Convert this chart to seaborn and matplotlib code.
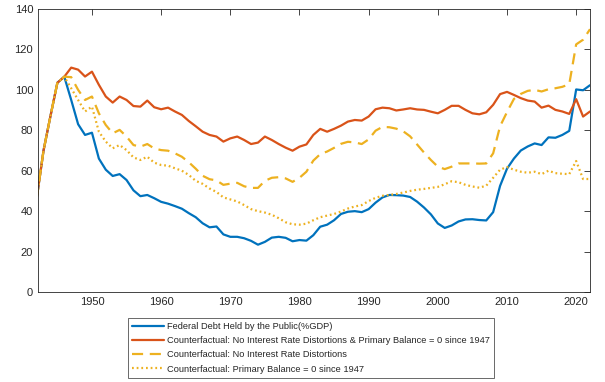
import pandas as pd
import seaborn as sns
import matplotlib.pyplot as plt

# Years shown on the chart
years = list(range(1942, 2023))

debt = [46, 70, 87, 103.5, 106.5, 95, 83, 77.7, 78.8, 66,
        60.5, 57.4, 58.3, 55.4, 50.3, 47.4, 48, 46.4, 44.6, 43.7,
        42.5, 41.2, 39, 37, 34, 32, 32.4, 28.5, 27.3, 27.3,
        26.6, 25.3, 23.4, 24.8, 26.9, 27.3, 26.8, 25.1, 25.7, 25.4,
        28.1, 32.3, 33.3, 35.5, 38.6, 39.7, 40, 39.5, 41, 44.2,
        46.8, 48, 47.9, 47.7, 47, 44.7, 41.8, 38.4, 33.9, 31.7,
        32.9, 34.9, 35.9, 36, 35.6, 35.4, 39.5, 52.5, 61, 66,
        70, 72, 73.5, 72.7, 76.5, 76.3, 77.7, 79.7, 100.2, 99.8,
        102.3]

cf_both = [46, 70, 87, 103.5, 106.5, 111, 110, 106.6, 109, 102.5,
           96.7, 93.7, 96.7, 95, 92, 91.7, 94.7, 91.4, 90.4, 91.2,
           89.3, 87.6, 84.6, 82, 79.3, 77.7, 76.9, 74.4, 76, 76.9,
           75.2, 73.2, 73.9, 76.9, 75.2, 73.2, 71.4, 69.9, 71.9, 73,
           77.7, 80.7, 79.3, 80.7, 82.3, 84.3, 85.1, 84.8, 86.8, 90.4,
           91.2, 90.9, 89.8, 90.3, 90.9, 90.3, 90.1, 89.2, 88.4, 90.1,
           92.1, 92.1, 90.1, 88.4, 87.9, 88.9, 92.6, 97.9, 99, 97.5,
           95.9, 94.7, 94.2, 91.2, 92.2, 90.1, 89.3, 88.1, 95.4, 86.8,
           89.3]

cf_rates = [46, 70, 87, 103.5, 106.5, 106.3, 100, 95, 96.7, 88.4,
            82.6, 78.5, 80.2, 76.9, 72.7, 71.9, 73.2, 71, 70.2, 69.9,
            68.6, 66.9, 64.2, 61, 57.5, 55.8, 55.2, 53, 53.6, 54,
            52.3, 51.5, 51.5, 55, 56.5, 56.8, 56.2, 54.5, 56.5, 59.5,
            65, 68.2, 69.5, 71.3, 73.3, 74.3, 74, 73.2, 75.5, 79.8,
            81.7, 81.5, 80.8, 79.5, 77, 73, 69, 65.3, 62, 60.8,
            62, 63.6, 63.6, 63.6, 63.5, 63.6, 68.6, 82, 89, 95.5,
            98, 99.5, 100, 99.2, 100.3, 100.8, 101.5, 102.8, 122.5, 124.8,
            130]

cf_primary = [46, 70, 87, 103.5, 106.5, 100.8, 95, 89.3, 91.7, 79.3,
              74.4, 71.1, 72.7, 70.2, 66.6, 65.3, 66.9, 64, 62.8, 62.5,
              61.2, 60, 57.9, 55, 53.5, 51.2, 49.5, 46.8, 45.8, 44.8,
              43, 41, 40, 39.3, 38.2, 36.5, 34.5, 33.5, 33.3, 33.8,
              35.5, 37, 37.8, 38.6, 39.8, 41.3, 42.3, 43, 45, 46.6,
              47.6, 48, 48.5, 49.2, 50, 50.6, 51, 51.5, 52, 53.3,
              54.8, 54.3, 53, 52.2, 51.6, 52.6, 56.5, 60.5, 61.8, 60.5,
              59.5, 59, 59.5, 58.3, 60, 58.8, 58.5, 58.3, 64.8, 55.9,
              55.9]

labels = [
    'Federal Debt Held by the Public(%GDP)',
    'Counterfactual: No Interest Rate Distortions & Primary Balance = 0 since 1947',
    'Counterfactual: No Interest Rate Distortions',
    'Counterfactual: Primary Balance = 0 since 1947',
]


def main():
    sns.set_style('white')
    plt.rcParams['font.family'] = ['Liberation Sans', 'DejaVu Sans']

    df = pd.DataFrame({'year': years, 'debt': debt, 'both': cf_both,
                       'rates': cf_rates, 'primary': cf_primary})

    fig = plt.figure(figsize=(6.05, 3.82), dpi=100)
    ax = fig.add_axes([38 / 605, 1 - 292 / 382, 552 / 605, 283 / 382])

    series = [
        ('debt', '#0072BD', '-'),
        ('both', '#D95319', '-'),
        ('rates', '#EDB120', (0, (5, 3))),
        ('primary', '#EDB120', (0, (0.8, 1.3))),
    ]
    for (col, color, ls), lab in zip(series, labels):
        sns.lineplot(data=df, x='year', y=col, ax=ax, color=color,
                     linestyle=ls, linewidth=1.6, label=lab, legend=False)

    ax.set_xlim(1942.2, 2022)
    ax.set_ylim(0, 140)
    ax.set_xticks(range(1950, 2021, 10))
    ax.set_yticks(range(0, 141, 20))
    ax.set_xlabel('')
    ax.set_ylabel('')
    ax.tick_params(direction='in', length=4, width=0.6, colors='#262626',
                   labelsize=8, top=True, right=True, labelcolor='#262626')
    for sp in ax.spines.values():
        sp.set_color('#262626')
        sp.set_linewidth(0.6)
        sp.set_visible(True)

    handles, labs = ax.get_legend_handles_labels()
    leg = fig.legend(handles, labs, loc='upper left',
                     bbox_to_anchor=(128 / 605, 1 - 318 / 382),
                     fontsize=6.7, frameon=True, fancybox=False,
                     handlelength=3.4, handletextpad=0.3, borderpad=0.45,
                     labelspacing=0.55, borderaxespad=0)
    leg.get_frame().set_edgecolor('#262626')
    leg.get_frame().set_linewidth(0.6)

    fig.savefig('out.png', dpi=100)
    plt.close(fig)


if __name__ == '__main__':
    main()
